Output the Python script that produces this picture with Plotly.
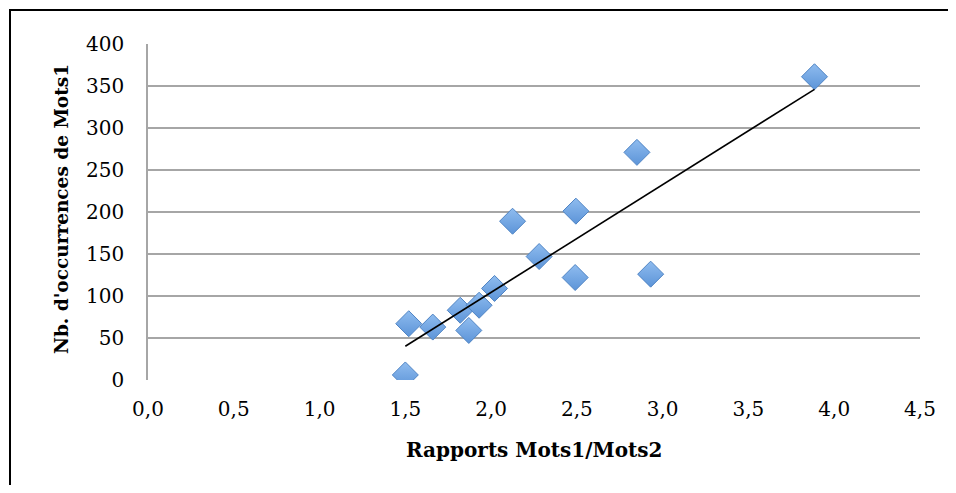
import numpy as np
import plotly.graph_objects as go

# Data
rapports = [1.50, 1.52, 1.66, 1.82, 1.87, 1.93, 2.02, 2.125, 2.28, 2.494, 2.49, 2.93, 2.85, 3.885]
occurrences = [6, 67, 63, 83, 59, 89, 109, 189, 147, 201, 122, 126, 271, 361]

x_title = "Rapports Mots1/Mots2"
y_title = "Nb. d'occurrences de Mots1"
x_ticks = [0.0, 0.5, 1.0, 1.5, 2.0, 2.5, 3.0, 3.5, 4.0, 4.5]
y_ticks = [0, 50, 100, 150, 200, 250, 300, 350, 400]

# Linear trend line (least squares), drawn from min x to max x
slope, intercept = np.polyfit(rapports, occurrences, 1)
trend_x = [min(rapports), max(rapports)]
trend_y = [slope * v + intercept for v in trend_x]

OFF = 8  # page body margin
W, H = 956 - 2 * OFF, 493 - 2 * OFF
L, T = 148 - OFF, 44 - OFF
R = W - (920 - OFF)
B = H - (380 - OFF)
pw, ph = W - L - R, H - T - B

font_family = "DejaVu Serif"

fig = go.Figure()
fig.add_trace(go.Scatter(
    x=rapports, y=occurrences, mode="markers",
    marker=dict(symbol="diamond", size=20, color="#8fbcef",
                gradient=dict(type="vertical", color="#5c94d8"),
                line=dict(color="#4f84c4", width=1)),
    showlegend=False, hoverinfo="x+y",
))
fig.add_trace(go.Scatter(
    x=trend_x, y=trend_y, mode="lines",
    line=dict(color="black", width=1.6),
    showlegend=False, hoverinfo="skip",
))

def px_x(p):
    return (p - OFF - L) / pw

def px_y(p):
    return (H - B - (p - OFF)) / ph

fig.update_layout(
    width=W, height=H,
    margin=dict(l=L, r=R, t=T, b=B, pad=0),
    paper_bgcolor="white", plot_bgcolor="white",
    separators=", ",
    font=dict(family=font_family, size=20, color="black"),
    xaxis=dict(range=[0, 4.5], tickvals=x_ticks, tickformat=".1f",
               showgrid=False, zeroline=False, showline=False,
               ticks="", ticklabelstandoff=15,
               tickfont=dict(family=font_family, size=20)),
    yaxis=dict(range=[0, 400], tickvals=y_ticks, tickformat="d",
               showgrid=True, gridcolor="#a6a6a6", gridwidth=1.6,
               zeroline=False, showline=True, linecolor="#a6a6a6", linewidth=1.6,
               ticks="", ticklabelstandoff=18,
               tickfont=dict(family=font_family, size=20)),
    shapes=[
        # outer chart frame: only top and left edges are visible in the crop
        dict(type="line", xref="paper", yref="paper",
             x0=px_x(9), x1=px_x(990), y0=px_y(10), y1=px_y(10),
             line=dict(color="black", width=2), layer="above"),
        dict(type="line", xref="paper", yref="paper",
             x0=px_x(10), x1=px_x(10), y0=px_y(9), y1=px_y(520),
             line=dict(color="black", width=2), layer="above"),
    ],
    annotations=[
        dict(text="<b>" + x_title + "</b>", xref="paper", yref="paper",
             x=0.5, y=px_y(450), xanchor="center", yanchor="middle",
             showarrow=False, font=dict(family=font_family, size=20)),
        dict(text="<b>" + y_title + "</b>", xref="paper", yref="paper",
             x=px_x(61), y=px_y(209), xanchor="center", yanchor="middle",
             textangle=-90, showarrow=False,
             font=dict(family=font_family, size=18.5)),
    ],
)

fig.write_html("out.html")
